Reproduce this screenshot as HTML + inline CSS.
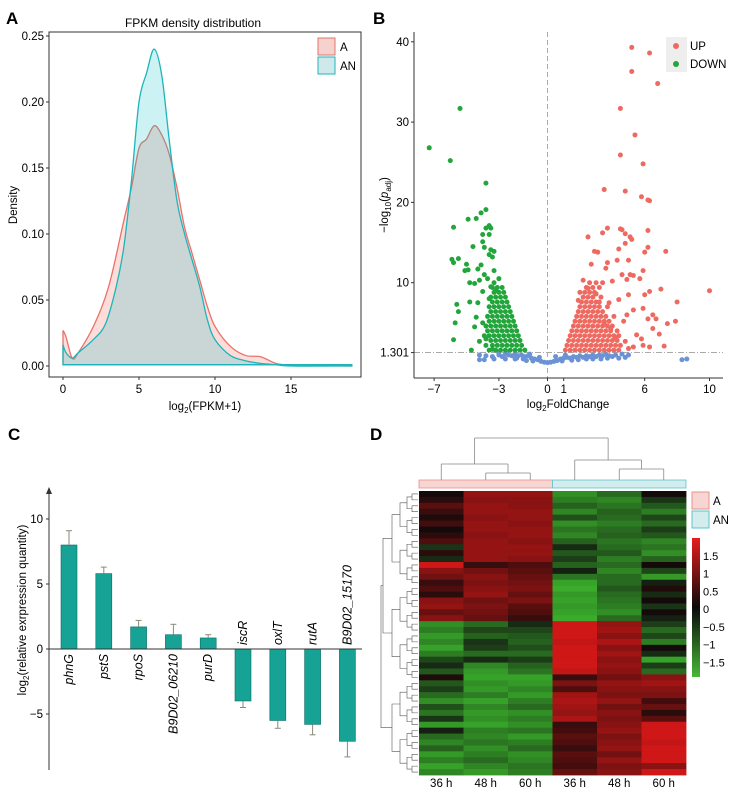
<!DOCTYPE html>
<html><head><meta charset="utf-8">
<style>
html,body{margin:0;padding:0;background:#fff;}
svg{display:block;font-family:"Liberation Sans",Arial,sans-serif;}
</style></head>
<body>
<svg id="fig" width="742" height="792" viewBox="0 0 742 792" xmlns="http://www.w3.org/2000/svg">
<text x="6" y="24" font-size="17" font-weight="bold">A</text>
<text x="373" y="24" font-size="17" font-weight="bold">B</text>
<text x="8" y="440" font-size="17" font-weight="bold">C</text>
<text x="370" y="440" font-size="17" font-weight="bold">D</text>
<g id="pa"></g>
<g id="pb"></g>
<g id="pc"></g>
<g id="pd"></g>
</svg>
<script>
const NS="http://www.w3.org/2000/svg";
function mk(parent,tag,attrs,txt){const e=document.createElementNS(NS,tag);for(const k in attrs)e.setAttribute(k,attrs[k]);if(txt!==undefined)e.textContent=txt;parent.appendChild(e);return e;}

// ---------- Panel A data ----------
const densX=[0,0.2,0.6,1,2,3,4,4.5,5,5.5,6,6.5,7,7.5,8,8.5,9,9.5,10,11,12,13,14,15,16,19];
const densA=[0.027,0.022,0.006,0.01,0.03,0.06,0.11,0.135,0.165,0.172,0.182,0.175,0.16,0.135,0.105,0.085,0.065,0.045,0.03,0.015,0.008,0.007,0.002,0.0005,0.0003,0];
const densXN=[0,0.2,0.6,1,2,2.8,3.5,4,4.5,5,5.5,6,6.5,7,7.5,8,8.5,9,9.5,10,11,12,13,14,15,19];
const densAN=[0.016,0.01,0.006,0.01,0.02,0.032,0.06,0.09,0.14,0.2,0.222,0.24,0.22,0.17,0.125,0.1,0.08,0.06,0.035,0.02,0.008,0.004,0.002,0.001,0,0];
const densYTicks=[0,0.05,0.10,0.15,0.20,0.25];
const densXTicks=[0,5,10,15];

// ---------- Panel B data ----------
const downPts=[[-7.3,26.8],[-6,25.2],[-5.4,31.7],[-3.8,22.4],[-3.8,19.1],[-4.1,18.7],[-4.4,18.0],[-4.9,17.9],[-5.8,16.9],[-3.6,17.1],[-3.5,16.8],[-3.8,16.8],[-4.0,16.0],[-3.6,16.0],[-4.0,15.1],[-4.6,14.5],[-3.9,14.4],[-3.5,14.1],[-3.3,13.9],[-3.6,13.5],[-3.4,13.2],[-5.9,12.9],[-5.5,13.0],[-5.8,12.5],[-5.0,12.3],[-4.9,11.6],[-5.1,11.5],[-4.1,12.2],[-4.3,11.7],[-3.9,11.0],[-3.3,11.5],[-3.7,10.5],[-4.2,10.3],[-4.8,10.0],[-4.5,9.9],[-3.0,10.5],[-3.3,10.0],[-4.8,7.6],[-5.6,7.3],[-5.5,6.4],[-5.7,5.0],[-4.4,5.7],[-4.0,5.0],[-4.5,4.5],[-5.8,2.9],[-4.7,1.6],[-4.2,2.7],[-3.8,3.0],[-3.4,1.7],[-4.0,8.9],[-4.3,7.5],[-3.5,9.5],[-3.2,9.0],[-3.6,8.0],
[-1.4,1.6],[-1.7,1.6],[-2.0,1.6],[-2.3,1.6],[-2.6,1.6],[-2.9,1.6],[-3.2,1.6],[-3.6,1.6],
[-1.6,2.2],[-1.9,2.2],[-2.2,2.2],[-2.5,2.2],[-2.8,2.2],[-3.1,2.2],[-3.4,2.2],[-3.8,2.2],
[-1.7,2.8],[-2.0,2.8],[-2.3,2.8],[-2.6,2.8],[-2.9,2.8],[-3.2,2.8],[-3.5,2.8],
[-1.8,3.4],[-2.1,3.4],[-2.4,3.4],[-2.7,3.4],[-3.0,3.4],[-3.3,3.4],[-3.6,3.4],[-3.9,3.4],
[-1.9,4.0],[-2.2,4.0],[-2.5,4.0],[-2.8,4.0],[-3.1,4.0],[-3.4,4.0],[-3.7,4.0],
[-2.0,4.6],[-2.3,4.6],[-2.6,4.6],[-2.9,4.6],[-3.2,4.6],[-3.5,4.6],[-3.8,4.6],
[-2.1,5.2],[-2.4,5.2],[-2.7,5.2],[-3.0,5.2],[-3.3,5.2],[-3.6,5.2],
[-2.2,5.8],[-2.5,5.8],[-2.8,5.8],[-3.1,5.8],[-3.4,5.8],[-3.7,5.8],
[-2.3,6.4],[-2.6,6.4],[-2.9,6.4],[-3.2,6.4],[-3.5,6.4],
[-2.4,7.0],[-2.7,7.0],[-3.0,7.0],[-3.3,7.0],[-3.6,7.0],
[-2.5,7.6],[-2.8,7.6],[-3.1,7.6],[-3.4,7.6],
[-2.6,8.2],[-2.9,8.2],[-3.2,8.2],[-3.5,8.2],
[-2.7,8.8],[-3.0,8.8],[-3.3,8.8],
[-2.8,9.4],[-3.1,9.4],[-3.4,9.4]];
const upPts=[[5.2,39.3],[6.3,38.6],[5.2,36.3],[6.8,34.8],[4.5,31.7],[5.4,28.4],[4.5,25.9],[5.9,24.8],[3.5,21.6],[4.8,21.4],[5.8,20.7],[6.2,20.3],[6.3,20.2],[3.7,16.8],[2.5,15.7],[4.5,16.7],[4.6,16.6],[4.8,16.1],[5.1,15.7],[5.2,15.4],[6.2,16.5],[3.4,16.2],[4.8,14.9],[4.4,14.2],[6.2,14.4],[7.3,13.9],[6.0,13.8],[2.9,13.9],[3.1,13.8],[2.7,12.3],[3.7,12.5],[4.3,12.8],[5.0,12.8],[5.9,11.5],[4.6,11.0],[5.1,11.0],[5.3,10.9],[3.6,11.8],[2.2,10.3],[2.6,10.0],[4.0,10.2],[4.9,10.4],[5.7,10.5],[7.0,9.2],[6.3,8.9],[10.0,9.0],[8.0,7.6],[6.0,8.5],[5.9,6.8],[6.5,6.0],[6.7,5.5],[7.9,5.2],[6.2,5.5],[7.4,4.9],[6.5,4.3],[6.9,3.6],[5.5,3.5],[5.8,3.0],[5.9,2.2],[7.2,2.1],[6.3,2.0],[5.3,2.0],[5.0,1.8],[4.8,2.7],[4.2,3.1],[3.9,4.2],[3.5,5.0],[4.7,5.2],[4.9,6.0],[5.3,6.6],[3.8,7.5],[4.4,7.9],[5.0,8.5],[3.2,7.6],[3.0,8.6],[2.5,9.3],[2.0,8.8],[1.9,7.8],
[1.1,1.6],[1.4,1.6],[1.7,1.6],[2.0,1.6],[2.3,1.6],[2.6,1.6],[2.9,1.6],[3.2,1.6],[3.5,1.6],[3.8,1.6],[4.1,1.6],[4.4,1.6],
[1.2,2.2],[1.5,2.2],[1.8,2.2],[2.1,2.2],[2.4,2.2],[2.7,2.2],[3.0,2.2],[3.3,2.2],[3.6,2.2],[3.9,2.2],[4.2,2.2],[4.5,2.2],
[1.3,2.8],[1.6,2.8],[1.9,2.8],[2.2,2.8],[2.5,2.8],[2.8,2.8],[3.1,2.8],[3.4,2.8],[3.7,2.8],[4.0,2.8],[4.3,2.8],
[1.4,3.4],[1.7,3.4],[2.0,3.4],[2.3,3.4],[2.6,3.4],[2.9,3.4],[3.2,3.4],[3.5,3.4],[3.8,3.4],[4.1,3.4],[4.4,3.4],
[1.5,4.0],[1.8,4.0],[2.1,4.0],[2.4,4.0],[2.7,4.0],[3.0,4.0],[3.3,4.0],[3.6,4.0],[3.9,4.0],[4.3,4.0],
[1.6,4.6],[1.9,4.6],[2.2,4.6],[2.5,4.6],[2.8,4.6],[3.1,4.6],[3.4,4.6],[3.7,4.6],[4.0,4.6],
[1.7,5.2],[2.0,5.2],[2.3,5.2],[2.6,5.2],[2.9,5.2],[3.2,5.2],[3.5,5.2],[3.8,5.2],
[1.8,5.8],[2.1,5.8],[2.4,5.8],[2.7,5.8],[3.0,5.8],[3.3,5.8],[3.6,5.8],[4.1,5.8],
[1.9,6.4],[2.2,6.4],[2.5,6.4],[2.8,6.4],[3.1,6.4],[3.4,6.4],
[2.0,7.0],[2.3,7.0],[2.6,7.0],[2.9,7.0],[3.2,7.0],[3.7,7.0],
[2.1,7.6],[2.4,7.6],[2.7,7.6],[3.0,7.6],
[2.2,8.2],[2.5,8.2],[2.8,8.2],[3.3,8.2],
[2.3,8.8],[2.6,8.8],[2.9,8.8],
[2.4,9.4],[2.8,9.4],[3.2,9.4],[3.0,10.0],[3.4,10.0]];
const nsPts=[[-4.2,0.4],[-3.9,0.4],[-4.2,1.0],[-3.8,0.9],[-3.4,0.8],[-3.0,1.0],[-2.8,0.8],[-2.6,1.1],[-2.4,1.0],[-2.2,0.9],[-2.0,1.1],[-1.8,0.9],[-1.6,1.0],[-1.4,0.8],[-1.2,0.9],[-1.0,0.6],[-0.8,0.5],[-0.6,0.4],[-0.4,0.2],[-0.2,0.1],[0,0.05],[0.2,0.1],[0.4,0.2],[0.6,0.3],[0.8,0.5],[1.0,0.6],[1.2,0.7],[1.4,0.6],[1.6,0.8],[1.8,0.7],[2.0,0.9],[2.2,0.7],[2.4,0.9],[2.6,0.8],[2.8,1.0],[3.0,0.8],[3.2,1.0],[3.4,0.9],[3.6,1.1],[3.8,0.9],[4.0,0.8],[4.2,1.0],[4.4,0.6],[4.6,1.1],[4.8,0.7],[5.0,1.0],[-3.0,1.2],[-2.5,1.25],[-1.9,0.6],[-1.5,0.5],[-1.3,0.3],[2.4,0.5],[1.9,0.4],[2.8,0.5],[3.3,0.5],[8.3,0.4],[8.6,0.5],[-3.3,0.5],[-2.6,0.5],[3.7,0.6],[-0.9,0.25],[0.9,0.25],[1.5,0.35],[-2.0,0.5],[-1.1,1.1],[1.1,1.0],[0.5,0.8],[-0.5,0.7]];
const volXTicks=[-7,-3,0,1,6,10];
const volYTicks=[1.301,10,20,30,40];

// ---------- Panel C data ----------
const genes=["phnG","pstS","rpoS","B9D02_06210","purD","iscR","oxlT","rutA","B9D02_15170"];
const geneVals=[8.0,5.8,1.7,1.1,0.85,-4.0,-5.5,-5.8,-7.1];
const geneErr=[1.1,0.5,0.5,0.8,0.25,0.5,0.6,0.8,1.2];
const barYTicks=[-5,0,5,10];

// ---------- Panel D data ----------
const hmCols=["36 h","48 h","60 h","36 h","48 h","60 h"];
const hmRows=[
[0.0,1.1,1.1,-1.4,-1.0,0.0],[0.2,1.0,1.0,-1.2,-1.3,-0.4],[0.6,1.1,1.0,-0.9,-1.1,-0.8],[0.3,1.1,1.1,-1.3,-0.9,-1.2],
[0.1,1.0,1.1,-0.7,-1.0,-0.6],[0.4,1.1,1.0,-1.4,-1.2,-1.0],[0.0,1.1,1.1,-1.1,-1.0,-0.5],[0.2,1.0,1.1,-1.3,-0.9,-0.8],
[0.5,1.1,1.0,-0.9,-1.1,-1.3],[-0.4,1.1,1.1,-0.3,-1.0,-1.1],[0.2,1.1,1.1,-0.8,-0.8,-1.4],[-0.3,1.1,1.0,-0.5,-1.2,-0.9],
[1.6,0.3,0.5,-0.9,-1.0,0.0],[1.0,0.8,0.6,-0.2,-1.3,-0.6],[0.8,1.0,0.7,-1.1,-1.0,-1.5],[0.3,0.9,0.8,-1.6,-1.0,-0.2],
[0.5,1.0,0.9,-1.7,-0.8,0.1],[0.2,1.1,0.7,-1.5,-1.0,-0.3],[1.0,0.8,0.9,-1.6,-1.1,0.0],[1.1,0.9,0.6,-1.5,-1.2,-0.4],
[0.7,0.8,0.5,-1.6,-1.4,0.0],[1.0,0.7,0.3,-1.7,-1.0,-0.2],[-1.4,-1.0,-0.3,1.6,1.1,-0.5],[-1.2,-0.6,-0.6,1.6,1.2,-1.0],
[-1.5,-0.9,-0.8,1.6,1.0,-0.6],[-1.3,-0.4,-0.9,1.5,1.3,-1.2],[-1.6,-0.5,-0.7,1.6,1.0,0.0],[-1.2,-1.0,-1.0,1.6,1.2,-0.3],
[-0.6,-0.3,-0.5,1.6,1.0,-1.6],[-0.3,-1.3,-0.9,1.6,1.1,-0.5],[-0.8,-1.5,-1.1,1.5,1.0,-1.0],[0.1,-1.6,-1.6,0.3,0.8,1.0],
[-0.8,-1.4,-1.5,0.9,1.1,1.2],[-0.5,-1.5,-1.3,0.5,1.0,1.0],[-1.0,-1.2,-1.5,1.2,0.9,0.9],[-1.4,-1.6,-1.2,1.3,1.1,0.4],
[-0.7,-1.3,-1.0,1.2,0.8,0.7],[-1.1,-1.5,-1.4,1.1,1.0,0.2],[-0.4,-1.4,-1.2,1.3,0.9,0.6],[-1.5,-1.6,-1.4,0.3,1.0,1.6],
[-0.2,-1.2,-1.1,0.4,1.1,1.6],[-1.0,-1.3,-1.5,0.6,0.9,1.6],[-1.3,-1.1,-1.2,0.5,1.0,1.5],[-0.9,-1.4,-1.0,0.3,1.1,1.6],
[-1.5,-1.2,-1.4,0.6,0.8,1.6],[-1.2,-1.0,-1.3,0.5,1.1,1.6],[-1.6,-1.3,-1.1,0.4,0.9,1.0],[-1.3,-1.5,-1.2,0.7,1.0,1.6]];
const cbTicks=[1.5,1,0.5,0,-0.5,-1,-1.5];
const cbLabels=["1.5","1","0.5","0","\u22120.5","\u22121","\u22121.5"];

// ================= Panel A =================
(function(){
const g=document.getElementById('pa');
const xs=v=>63+v*15.2, ys=v=>366-v*1320;
mk(g,'text',{x:193,y:27,'font-size':12,'text-anchor':'middle',},'FPKM density distribution');
function smooth(xa,ya){
 const p=xa.map((x,i)=>[xs(x),ys(ya[i])]);
 let d=`M${xs(xa[0])},${ys(0.001)} L${p[0][0]},${p[0][1]}`;
 for(let i=0;i<p.length-1;i++){
  const p0=p[Math.max(0,i-1)],p1=p[i],p2=p[i+1],p3=p[Math.min(p.length-1,i+2)];
  const c1=[p1[0]+(p2[0]-p0[0])/6,p1[1]+(p2[1]-p0[1])/6],c2=[p2[0]-(p3[0]-p1[0])/6,p2[1]-(p3[1]-p1[1])/6];
  d+=` C${c1[0]},${c1[1]} ${c2[0]},${c2[1]} ${p2[0]},${p2[1]}`;
 }
 d+=` L${xs(xa[xa.length-1])},${ys(0.001)} Z`;return d;
}
const pA=mk(g,'path',{d:smooth(densX,densA),fill:'rgba(248,118,109,0.25)',stroke:'#e7736c','stroke-width':1.3});


const pN=mk(g,'path',{d:smooth(densXN,densAN),fill:'rgba(0,191,196,0.2)',stroke:'#1db5ba','stroke-width':1.3});


mk(g,'rect',{x:49,y:32,width:312,height:345,fill:'none',stroke:'#333','stroke-width':1,});
densYTicks.forEach(v=>{
 mk(g,'line',{x1:46,x2:49,y1:ys(v),y2:ys(v),stroke:'#333'});
 const t=mk(g,'text',{x:44,y:ys(v)+4,'font-size':11.5,'text-anchor':'end'},v.toFixed(2));
 
 
});
densXTicks.forEach(v=>{
 mk(g,'line',{x1:xs(v),x2:xs(v),y1:377,y2:380,stroke:'#333'});
 const t=mk(g,'text',{x:xs(v),y:393,'font-size':11.5,'text-anchor':'middle'},String(v));
 
 
});
const xl=mk(g,'text',{x:205,y:410,'font-size':11.5,'text-anchor':'middle',});
xl.innerHTML='log<tspan font-size="8" dy="3">2</tspan><tspan dy="-3">(FPKM+1)</tspan>';
mk(g,'text',{x:17,y:205,'font-size':11.5,'text-anchor':'middle',transform:'rotate(-90 17 205)',},'Density');
mk(g,'rect',{x:318,y:38,width:17,height:17,fill:'#f5d2ce',stroke:'#e7736c',});
mk(g,'rect',{x:318,y:57,width:17,height:17,fill:'#cfe9ea',stroke:'#1db5ba',});
mk(g,'text',{x:340,y:51,'font-size':11.5,},'A');
mk(g,'text',{x:340,y:70,'font-size':11.5,},'AN');
})();

// ================= Panel B =================
(function(){
const g=document.getElementById('pb');
const xs=v=>547.5+v*16.2, ys=v=>363-v*8.03;
mk(g,'line',{x1:xs(0),x2:xs(0),y1:32,y2:378,stroke:'#aaa','stroke-dasharray':'5,3',});
mk(g,'line',{x1:414,x2:723,y1:ys(1.301),y2:ys(1.301),stroke:'#aaa','stroke-dasharray':'6,2,1,2',});
function pts(arr,col,name){arr.forEach(p=>{
 const c=mk(g,'circle',{cx:xs(p[0]),cy:ys(p[1]),r:2.5,fill:col});
 
 
});}
pts(nsPts,'#6a92d4','point-ns');
pts(downPts,'#22a63c','point-down');
pts(upPts,'#ee6a60','point-up');
mk(g,'line',{x1:414,x2:414,y1:32,y2:378,stroke:'#333',});
mk(g,'line',{x1:414,x2:723,y1:378,y2:378,stroke:'#333',});
volYTicks.forEach(v=>{
 mk(g,'line',{x1:411,x2:414,y1:ys(v),y2:ys(v),stroke:'#333'});
 const t=mk(g,'text',{x:409,y:ys(v)+4,'font-size':11.5,'text-anchor':'end'},String(v));
 
 
});
volXTicks.forEach(v=>{
 mk(g,'line',{x1:xs(v),x2:xs(v),y1:378,y2:381,stroke:'#333'});
 const t=mk(g,'text',{x:xs(v),y:393,'font-size':11.5,'text-anchor':'middle'},v<0?'\u2212'+(-v):String(v));
 
 
});
const xl=mk(g,'text',{x:568,y:408,'font-size':11.5,'text-anchor':'middle',});
xl.innerHTML='log<tspan font-size="8" dy="3">2</tspan><tspan dy="-3">FoldChange</tspan>';
const yl=mk(g,'text',{x:388,y:205,'font-size':11.5,'text-anchor':'middle',transform:'rotate(-90 388 205)',});
yl.innerHTML='\u2212log<tspan font-size="8" dy="3">10</tspan><tspan dy="-3">(</tspan><tspan font-style="italic">p</tspan><tspan font-size="8" dy="3">adj</tspan><tspan dy="-3">)</tspan>';
mk(g,'rect',{x:666,y:37,width:21,height:35,fill:'#eeeeee',});
mk(g,'circle',{cx:676,cy:46,r:3,fill:'#ee6a60'});
mk(g,'circle',{cx:676,cy:64,r:3,fill:'#22a63c'});
mk(g,'text',{x:690,y:50,'font-size':11.5,},'UP');
mk(g,'text',{x:690,y:68,'font-size':11.5,},'DOWN');
})();

// ================= Panel C =================
(function(){
const g=document.getElementById('pc');
const ys=v=>649-v*13, xs=i=>69+i*34.8;
mk(g,'line',{x1:49,x2:49,y1:492,y2:770,stroke:'#333',});
mk(g,'path',{d:'M46,494 L49,487 L52,494 Z',fill:'#333'});
genes.forEach((name,i)=>{
 const v=geneVals[i],x=xs(i),y0=ys(0),y1=ys(v);
 const r=mk(g,'rect',{x:x-8,y:Math.min(y0,y1),width:16,height:Math.abs(y1-y0),fill:'#16a295',stroke:'#0d6e64','stroke-width':0.6});
 
 
 const ye=ys(v+(v>=0?geneErr[i]:-geneErr[i]));
 mk(g,'line',{x1:x,x2:x,y1:y1,y2:ye,stroke:'#8a8a7a'});
 mk(g,'line',{x1:x-3,x2:x+3,y1:ye,y2:ye,stroke:'#8a8a7a'});
 let t;
 if(v>=0){t=mk(g,'text',{x:x+4,y:y0+5,'font-size':12.5,'font-style':'italic','text-anchor':'end',transform:`rotate(-90 ${x+4} ${y0+5})`},name);}
 else{t=mk(g,'text',{x:x+4,y:y0-4,'font-size':12.5,'font-style':'italic','text-anchor':'start',transform:`rotate(-90 ${x+4} ${y0-4})`},name);}
 
 
});
mk(g,'line',{x1:49,x2:362,y1:ys(0),y2:ys(0),stroke:'#333',});
barYTicks.forEach(v=>{
 mk(g,'line',{x1:46,x2:49,y1:ys(v),y2:ys(v),stroke:'#333'});
 const t=mk(g,'text',{x:43,y:ys(v)+4,'font-size':11.5,'text-anchor':'end'},v<0?'\u2212'+(-v):String(v));
 
 
});
const yl=mk(g,'text',{x:26,y:610,'font-size':11.5,'text-anchor':'middle',transform:'rotate(-90 26 610)',});
yl.innerHTML='log<tspan font-size="8" dy="3">2</tspan><tspan dy="-3">(relative exrpression quantity)</tspan>';
})();

// ================= Panel D =================
(function(){
const g=document.getElementById('pd');
const X0=419,X1=686,Y0=491,Y1=775;
const cw=(X1-X0)/hmCols.length, rh=(Y1-Y0)/hmRows.length;
function col(v){const t=Math.max(-1,Math.min(1,v/1.8));
 if(t>=0)return `rgb(${Math.round(20+210*t)},${Math.round(10+15*t)},${Math.round(10+15*t)})`;
 const s=-t;return `rgb(${Math.round(15+45*s)},${Math.round(15+165*s)},${Math.round(15+30*s)})`;}
hmRows.forEach((row,r)=>row.forEach((v,c)=>{
 const e=mk(g,'rect',{x:X0+c*cw,y:Y0+r*rh,width:cw+0.4,height:rh+0.4,fill:col(v)});
 
 
}));
hmCols.forEach((l,c)=>{
 const t=mk(g,'text',{x:X0+(c+0.5)*cw,y:787,'font-size':11.5,'text-anchor':'middle'},l);
 
 
});
mk(g,'rect',{x:X0,y:480,width:cw*3,height:8,fill:'#f7d5d2',stroke:'#e8918b','stroke-width':0.8,});
mk(g,'rect',{x:X0+cw*3,y:480,width:cw*3,height:8,fill:'#d3ecee',stroke:'#5cc5cb','stroke-width':0.8,});
const cx=i=>X0+(i+0.5)*cw;
const dg='#888';
const segs=[[cx(1),473,cx(2),473],[cx(1),473,cx(1),480],[cx(2),473,cx(2),480],
[cx(0),464,(cx(1)+cx(2))/2,464],[cx(0),464,cx(0),480],[(cx(1)+cx(2))/2,464,(cx(1)+cx(2))/2,473],
[cx(4),469,cx(5),469],[cx(4),469,cx(4),480],[cx(5),469,cx(5),480],
[cx(3),460,(cx(4)+cx(5))/2,460],[cx(3),460,cx(3),480],[(cx(4)+cx(5))/2,460,(cx(4)+cx(5))/2,469],
[(cx(0)+cx(1.5))/2,438,(cx(3)+cx(4.5))/2,438],[(cx(0)+cx(1.5))/2,438,(cx(0)+cx(1.5))/2,464],[(cx(3)+cx(4.5))/2,438,(cx(3)+cx(4.5))/2,460]];
const dgG=mk(g,'g',{stroke:dg,'stroke-width':0.8,});
segs.forEach(s=>mk(dgG,'line',{x1:s[0],y1:s[1],x2:s[2],y2:s[3]}));
const rG=mk(g,'g',{stroke:'#555','stroke-width':0.6,fill:'none',});
let nodes=hmRows.map((_,r)=>({y:Y0+(r+0.5)*rh,x:X0-1}));
const levels=[412,407,400,392,383,381];
let li=0;
while(nodes.length>1){
 const lx=levels[Math.min(li,levels.length-1)]; const nn=[];
 for(let i=0;i<nodes.length;i+=2){
  if(i+1>=nodes.length){nn.push(nodes[i]);continue;}
  const a=nodes[i],b=nodes[i+1];
  mk(rG,'path',{d:`M${a.x},${a.y} H${lx} V${b.y} H${b.x}`});
  nn.push({x:lx,y:(a.y+b.y)/2});
 }
 nodes=nn;li++;
}
mk(g,'rect',{x:692,y:492,width:17,height:17,fill:'#f7d5d2',stroke:'#e8918b',});
mk(g,'rect',{x:692,y:511,width:17,height:17,fill:'#d3ecee',stroke:'#5cc5cb',});
mk(g,'text',{x:713,y:505,'font-size':11.5,},'A');
mk(g,'text',{x:713,y:524,'font-size':11.5,},'AN');
const defs=mk(g,'defs',{});
const lg=mk(defs,'linearGradient',{id:'cbg',x1:0,y1:0,x2:0,y2:1});
mk(lg,'stop',{offset:'0','stop-color':'#e61e1e'});
mk(lg,'stop',{offset:'0.5','stop-color':'#0a0a0a'});
mk(lg,'stop',{offset:'1','stop-color':'#46b836'});
mk(g,'rect',{x:692,y:538,width:8,height:139,fill:'url(#cbg)',});
const cy=v=>609-v*35.5;
cbTicks.forEach((v,i)=>{
 const t=mk(g,'text',{x:703,y:cy(v)+4,'font-size':11},cbLabels[i]);
 
 
});
})();
</script>
</body></html>
